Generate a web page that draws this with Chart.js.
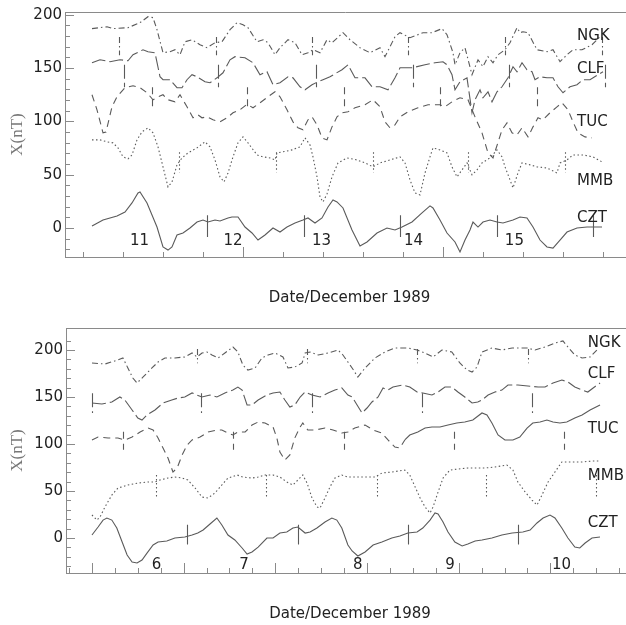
<!DOCTYPE html>
<html lang="en">
<head>
<meta charset="utf-8">
<title>X component, December 1989</title>
<script src="https://cdn.jsdelivr.net/npm/chart.js@4.4.1/dist/chart.umd.min.js"></script>
<style>
  html, body { margin: 0; padding: 0; background: #fff; }
  #top { position: absolute; left: 0; top: 0; }
  #bottom { position: absolute; left: 0; top: 312px; }
</style>
</head>
<body>
<canvas id="top" width="626" height="312"></canvas>
<canvas id="bottom" width="626" height="313"></canvas>
<script>
// stations, days, tick labels
const stations = ['NGK', 'CLF', 'TUC', 'MMB', 'CZT'];
const daysTop = ['11', '12', '13', '14', '15'];
const daysBottom = ['6', '7', '8', '9', '10'];
const dayHoursTop = [11.9, 35.25, 57.4, 80.4, 105.6];
const dayHoursBottom = [16.9, 39.8, 69.6, 93.7, 122.9];
const yTickLabels = [0, 50, 100, 150, 200];
const xTicksTop = [-2.25, 7.75, 17.75, 27.75, 37.75, 47.75, 57.75, 67.75, 77.75, 87.75, 97.75, 107.75, 117.75, 127.75];
const xMajorTop = [37.75, 87.75];
const xTicksBottom = [-6, 0, 6, 12, 18, 24, 30, 36, 42, 48, 54, 60, 66, 72, 78, 84, 90, 96, 102, 108, 114, 120, 126, 132, 138];
const xMajorBottom = [0, 24, 48, 72, 96, 120];

// top panel, 11-15 December: [hour, nT]
const ngkTop = [[0,186.9],[3.75,188.7],[5.25,186.9],[9,187.8],[12,192.5],[14,198.1],[15.25,197.2],[16.25,185.9],[17.75,164.3],[19.5,165.3],[20.75,167.1],[22,162.4],[23.25,174.6],[25,176.5],[27,171.8],[28.75,169],[30.75,173.7],[32.5,174.6],[34.5,185.9],[36.25,192.5],[37.75,190.6],[39,187.8],[41.25,174.6],[42.75,176.5],[44,173.7],[45.75,162.4],[47,169],[49,176.5],[50.75,173.7],[52.5,162.4],[54,164.3],[55.25,167.1],[57,164.3],[58.75,176.5],[60,173.7],[62.75,183.1],[64.5,176.5],[67,169],[69.5,164.3],[72,169],[73.25,160.6],[75.75,179.3],[77,183.1],[79.5,178.4],[82.75,183.1],[85,183.1],[87.5,186.9],[88.75,181.2],[90.25,164.3],[90.75,153],[92,164.3],[93.25,169],[95,143.7],[96.5,157.7],[97.75,151.2],[99,160.6],[100.25,154.9],[101.5,162.4],[103.25,167.1],[104.5,173.7],[106.25,187.8],[107,183.1],[107.75,184],[109,183.1],[111.25,167.1],[113.75,165.3],[115.25,167.1],[117,155.9],[118.75,162.4],[120.25,167.1],[122.5,167.1],[125,171.8],[127,179.3]];
const clfTop = [[0,154.9],[2,157.7],[4.5,155.9],[7,157.7],[9,156.8],[10.25,162.4],[12.75,167.1],[14,165.3],[15.75,164.3],[17,141.8],[17.75,139],[19.5,139],[21.25,131.5],[22.5,131.5],[23.75,139],[25,143.7],[26.25,141.8],[28.25,137.1],[29.5,136.2],[31.25,140.8],[32.75,145.5],[34.5,157.7],[35.75,160.6],[38.25,159.6],[40.25,154.9],[42,143.7],[43.75,146.5],[45.25,134.3],[47,136.2],[49,141.8],[50.25,140.8],[52,132.4],[53.25,129.6],[55,134.3],[56.5,137.1],[57.75,139],[59.5,141.8],[62.5,148.4],[64,153],[65.75,140.8],[68.25,140.8],[70,132.4],[72,132.4],[74,129.6],[75.75,140.8],[77,150.2],[80,150.2],[83.25,153],[85.75,154.9],[87.75,155.9],[88.75,153],[90,143.7],[90.75,129.6],[92,137.1],[93.75,140.8],[95,108],[95.75,120.2],[97,129.6],[97.75,122.1],[99,127.7],[100,118.3],[101.25,127.7],[102.5,132.4],[104,140.8],[105.25,151.2],[106.25,146.5],[107.5,154.9],[108.75,148.4],[110,146.5],[110.75,139],[112,141.8],[113.75,140.8],[115.25,140.8],[116.5,132.4],[117.75,126.8],[119.5,132.4],[121.25,134.3],[122.75,139],[124.5,139],[126.5,143.7],[127.75,146.5]];
const tucTop = [[0,124.9],[1.25,110.8],[2.75,89.2],[3.5,90],[5,113.6],[6.25,123],[8.25,131.5],[10.25,133.3],[12,131.5],[13.75,126.8],[15.25,120.2],[16.5,123],[17.75,124.9],[19,120.2],[20.75,118.3],[22,124.9],[23.75,113.6],[25.25,103.3],[26.5,106.1],[27.5,103.3],[28.75,104.2],[30.25,101.4],[32,99.5],[33.75,103.3],[35.25,108],[37,110.8],[38.75,116],[40.25,112.7],[42,117.4],[44,123],[45.75,127.7],[47,123],[48.75,110.8],[50.25,99.5],[51.5,93.9],[52.75,92],[54,101.4],[55,104.2],[56.25,96.7],[57.5,84.5],[58.75,82.6],[60,94.8],[61.25,104.2],[62.5,108],[64,108.9],[65.75,112.7],[68.25,115.5],[70.25,120.2],[72,113.6],[73.25,99.5],[74.5,93.9],[75.75,96.7],[77,104.2],[79,108.9],[81.5,112.7],[84,115.5],[87,115.5],[88.25,113.6],[90,118.3],[92,122.1],[94,120.2],[95.75,104.2],[97.5,89.2],[99,70.4],[100.25,65.7],[102.5,92],[103.75,98.6],[105,89.2],[106.25,87.3],[107.5,93.9],[109,85.4],[110.25,94.8],[111.5,103.3],[112.75,101.4],[114.5,108],[116.25,113.6],[117.5,117.4],[119,110.8],[120.25,99.5],[121.5,89.2],[123.25,85.4],[125,84.5]];
const mmbTop = [[0,82.6],[2,82.6],[3.75,80.8],[5.25,79.8],[6.5,75.1],[7.75,66.7],[9,64.8],[10,68.5],[11.25,82.6],[12.5,90.1],[14,93.9],[15.25,89.2],[16.5,76.1],[17.75,57.3],[19,38.5],[20,43.2],[21.25,59.2],[22.5,65.7],[24,70.4],[26.25,75.1],[28.25,80.8],[29.5,76.1],[30.75,63.8],[32,47.9],[33,43.2],[34,51.6],[35.25,66.7],[36.5,79.8],[37.75,85.4],[39,79.8],[41.25,68.5],[42.75,66.7],[44.5,65.7],[45.75,63.8],[46.25,70.4],[47.75,71.4],[50,73.2],[52,76.1],[53.25,84.5],[54.5,77.9],[55.25,66.7],[56.25,47.9],[57,29.1],[57.75,24.4],[58.75,31.9],[60,47.9],[61.5,61],[63.75,65.7],[66.25,63.8],[68.25,61],[70.25,57.3],[72,61],[74.5,63.8],[77,66.7],[78.25,61],[79.5,45.1],[80.75,32.9],[82,31],[83.25,51.6],[84.5,66.7],[85.25,75.1],[87,73.2],[88.75,70.4],[90,57.3],[91.25,47.9],[92.5,54.5],[93.75,61],[95,49.8],[96.25,54.5],[97.5,61],[99.5,65.7],[101.25,73.2],[102.5,66.7],[103.25,57.3],[104.5,45.1],[105.25,37.6],[106.5,51.6],[107.5,61],[109.5,59.2],[111.25,57.3],[113.75,56.3],[116.25,51.6],[117,61],[118.75,63.8],[120.25,68.5],[122.75,68.5],[125.25,66.7],[127.5,62]];
const cztTop = [[0,1.9],[2.75,7.5],[6.25,11.3],[8.25,15],[10,23.5],[11.5,32.9],[12,33.8],[13.75,23.5],[16.25,0.9],[17.75,-17.8],[19,-20.7],[20,-17.8],[21.25,-6.6],[22.75,-4.7],[24.5,0],[26.25,5.6],[27.75,7.5],[29,5.6],[30.75,7.5],[32,6.6],[34,9.4],[35,10.3],[36.5,10.3],[38.25,0.9],[40,-4.7],[41.5,-11.3],[43.25,-6.6],[45.25,0],[47,-3.8],[48.75,0.9],[50.75,4.7],[52.75,7.5],[54,9.4],[55.75,4.7],[57.5,9.4],[59,19.7],[60.25,26.3],[61.25,24.4],[62.75,18.8],[65,-1.9],[67,-16.9],[68.75,-13.1],[71.25,-4.7],[73.75,0],[75.75,-1.9],[77.5,0.9],[80,5.6],[82.5,14.1],[84.5,20.7],[85.25,18.8],[87,7.5],[88.75,-4.7],[90.75,-13.1],[92,-22.5],[93.25,-11.3],[94.5,-1.9],[95.25,5.6],[96.5,0.9],[97.75,5.6],[99.5,7.5],[101.25,5.6],[102.75,4.7],[105.25,7.5],[107,10.3],[108.75,9.4],[110.25,0.9],[112,-11.3],[113.75,-17.8],[115.25,-18.8],[117,-11.3],[118.75,-3.8],[121.25,0],[123.75,0.9],[127.5,0.9]];

// bottom panel, 6-10 December: [hour, nT]
const ngkBottom = [[0,186.2],[3.4,185.1],[6.8,189.4],[8.1,191.5],[9.4,180.9],[10.7,170.2],[11.8,164.9],[13.4,171.3],[15.7,180.9],[17.3,187.2],[19.1,191.5],[21.7,191.5],[24.3,192.6],[26.2,196.8],[27.5,192.6],[28.8,196.8],[30.1,197.9],[31.4,194.7],[33,191.5],[34.8,196.8],[36.9,203.2],[38.2,197.9],[39.5,184],[40.8,178.7],[42.7,180.9],[44.5,191.5],[46.1,194.7],[47.9,196.8],[50,192.6],[51.3,180.9],[53.1,181.9],[55,186.2],[55.8,196.8],[57.1,197.9],[59.2,194.7],[61.8,196.8],[64.4,200],[65.7,194.7],[67,187.2],[68.1,180.9],[69.6,171.3],[71.5,180.9],[74.1,191.5],[76.7,197.9],[79.3,202.1],[82.7,202.1],[85.1,200],[87.2,196.8],[89.3,192.6],[91.6,200],[94.2,197.9],[96.3,186.2],[98.2,178.7],[99.5,176.6],[100.8,181.9],[102.1,197.9],[104.7,202.1],[107.3,200],[110,202.1],[113.9,202.1],[116,200],[118.6,203.2],[121.2,207.4],[123.3,209.6],[124.6,203.2],[126.4,194.7],[128.3,191.5],[130.4,192.6],[132.2,200]];
const clfBottom = [[0,143.6],[2.6,142.6],[5.2,144.7],[7.3,150],[8.6,146.8],[10.5,136.2],[12,127.7],[13.1,125.5],[14.4,130.9],[16.5,136.2],[18.6,143.6],[20.9,146.8],[22.5,148.9],[24.3,150],[26.2,154.3],[27.5,152.1],[28.8,150],[30.9,152.1],[32.7,150],[34.8,154.3],[36.9,157.4],[38.2,160.6],[39.3,157.4],[40.6,141.5],[41.9,141.5],[43.5,146.8],[45.8,152.1],[47.4,154.3],[49.2,155.3],[50.5,146.8],[51.8,139.4],[53.1,141.5],[54.5,150],[55.8,155.3],[57.6,152.1],[59.7,150],[61.8,154.3],[63.6,157.4],[65.4,159.6],[67,152.1],[68.1,150],[69.4,141.5],[70.7,133],[72,138.3],[73.3,144.7],[74.9,150],[76.2,159.6],[77.5,157.4],[78.8,160.6],[81.4,162.8],[83.2,160.6],[85.1,155.3],[86.6,154.3],[89,152.1],[90.6,155.3],[92.4,160.6],[94.2,160.6],[95.8,155.3],[97.6,150],[99.5,143.6],[101,144.7],[102.1,146.8],[103.7,152.1],[105.5,155.3],[107.3,157.4],[108.9,162.8],[111.5,162.8],[114.1,161.7],[116.8,160.6],[118.6,160.6],[120.7,164.9],[123,168.1],[124.6,166],[126.4,160.6],[128.3,157.4],[129.8,155.3],[131.2,159.6],[133,164.9]];
const tucBottom = [[0,104.3],[1.6,107.4],[4.2,106.4],[6.8,106.4],[8.6,104.3],[10.5,107.4],[12.6,112.8],[14.7,117],[16,114.9],[17.3,106.4],[18.6,95.7],[19.9,85.1],[21.2,70.2],[22.3,74.5],[23.6,88.3],[24.9,98.9],[26.2,104.3],[28.3,107.4],[30.4,112.8],[32.7,114.9],[34,114.9],[35.6,111.7],[36.9,109.6],[38.2,112.8],[40.1,112.8],[41.9,120.2],[43.5,123.4],[45.3,122.3],[47.4,118.1],[48.4,106.4],[49.2,91.5],[50.5,83],[51.8,88.3],[53.1,106.4],[54.5,118.1],[55.2,122.3],[56.5,114.9],[58.4,114.9],[61,117],[63.1,114.9],[65.4,111.7],[67,112.8],[68.8,117],[71.5,120.2],[73.6,114.9],[75.9,111.7],[77.5,104.3],[79.3,96.8],[80.6,95.7],[81.9,104.3],[83.2,109.6],[85.3,112.8],[87.2,117],[89,118.1],[91.1,118.1],[93.2,120.2],[95.5,122.3],[97.6,123.4],[99.7,125.5],[102.1,133],[103.4,130.9],[104.7,122.3],[106.3,109.6],[108.1,104.3],[110.2,104.3],[112,107.4],[113.9,117],[115.4,122.3],[117.3,123.4],[119.1,125.5],[120.7,123.4],[122.5,122.3],[124.3,123.4],[126.4,127.7],[128.3,130.9],[130.4,136.2],[133,141.5]];
const mmbBottom = [[0,24.5],[1.3,19.1],[2.1,22.3],[3.4,33],[5.2,45.7],[6.8,53.2],[9.4,56.4],[12,58.5],[14.7,59.6],[16.5,59.6],[17.8,61.7],[19.9,63.8],[21.7,64.9],[23.6,63.8],[25.1,61.7],[27,53.2],[28.8,43.6],[30.4,42.6],[32.2,47.9],[34,56.4],[35.6,63.8],[38,67],[39.5,64.9],[41.9,63.8],[43.5,64.9],[45.3,67],[47.4,67],[49.2,64.9],[51,59.6],[52.6,56.4],[53.9,61.7],[55.2,67],[56.3,58.5],[57.6,42.6],[58.9,33],[59.7,31.9],[61,42.6],[62.3,54.3],[63.6,63.8],[65.4,67],[67,64.9],[70.7,64.9],[74.1,64.9],[75.9,69.1],[78.5,70.2],[81.9,72.3],[83.2,67],[84.6,54.3],[85.9,42.6],[87.2,33],[88.5,26.6],[89.3,33],[90.6,48.9],[91.9,63.8],[93.7,72.3],[95.8,73.4],[98.4,74.5],[102.9,74.5],[105.5,75.5],[108.6,77.7],[110.2,72.3],[111.5,59.6],[113.4,48.9],[115.2,40.4],[116.5,35.1],[117.8,45.7],[119.4,59.6],[121.2,70.2],[123,80.9],[125.7,80.9],[128.3,80.9],[130.9,81.9],[133,81.9]];
const cztBottom = [[0,3.2],[1.6,11.7],[2.9,19.1],[3.9,21.3],[5.2,19.1],[6.5,10.6],[7.9,-4.3],[9.2,-18.1],[10.5,-25.5],[11.8,-26.6],[13.1,-23.4],[14.4,-16],[16,-7.4],[17.3,-4.3],[19.6,-3.2],[21.7,0],[24.3,1.1],[26.2,3.2],[27.7,5.3],[29.1,8.5],[30.9,14.9],[32.7,21.3],[34,13.8],[35.6,3.2],[37.4,-2.1],[39.3,-10.6],[40.6,-17],[41.9,-14.9],[43.5,-9.6],[45.8,0],[47.4,0],[49.2,5.3],[51,6.4],[52.6,10.6],[53.9,11.7],[55.8,5.3],[57.1,6.4],[58.9,10.6],[61,17],[62.8,21.3],[64.1,19.1],[65.4,10.6],[67,-7.4],[68.1,-13.8],[69.6,-19.1],[71.5,-14.9],[73.6,-7.4],[75.9,-4.3],[78.5,0],[80.6,2.1],[82.7,5.3],[85.1,6.4],[86.6,10.6],[88.5,19.1],[89.8,26.6],[90.6,25.5],[91.9,17],[93.2,6.4],[95,-4.3],[96.9,-8.5],[98.4,-6.4],[100.3,-3.2],[102.1,-2.1],[104.7,0],[107.3,3.2],[110,5.3],[112.8,6.4],[114.7,8.5],[116.5,16],[118.1,21.3],[119.9,24.5],[121.2,21.3],[123,10.6],[124.6,0],[126.4,-9.6],[127.7,-10.6],[129.1,-5.3],[130.9,0],[133,1.1]];

// local-time marker hours and their nT band
const marksTop = [[6.75, 31, 55, 79, 103.25, 127.5], [8, 31.5, 56, 80.25, 104.25, 128.25], [15, 38.75, 63, 87, 111.25], [21.75, 46, 70.25, 94, 118.25], [28.75, 53, 77, 101.25, 125.25]];
const bandsTop = [[162, 179], [132, 153], [113, 132], [52, 71], [-8.5, 12]];
const marksBottom = [[27.5, 56.3, 85.1, 114.1], [0, 28.5, 57.6, 86.4, 115.2], [8.1, 36.9, 66, 94.8, 123.6], [16.8, 45.5, 74.6, 103.1, 131.9], [24.9, 53.9, 82.7, 111.5]];
const bandsBottom = [[186, 201], [133, 154], [94, 113], [44, 67], [-7, 14]];

const lineColor = '#5a5a5a';
const axisColor = '#8a8a8a';
const dashes = [[6, 3, 1.5, 3], [14, 4], [7, 5], [1.5, 2.5], []];
const tucSolidFrom = 81.9; // TUC drawn solid after this hour in the lower panel

// frame, inward ticks, markers and texts
const decor = {
    id: 'decor',
    afterDatasetsDraw(chart, args, o) {
        const { ctx, chartArea: a, scales: { x, y } } = chart;
        ctx.save();
        ctx.strokeStyle = axisColor;
        ctx.lineWidth = 1;
        ctx.beginPath();
        ctx.moveTo(a.left, a.top + 0.5);
        ctx.lineTo(a.right, a.top + 0.5);
        o.xTicks.forEach(h => {
            const px = Math.round(x.getPixelForValue(h)) + 0.5;
            const len = o.xMajor.includes(h) ? 10 : 5;
            ctx.moveTo(px, a.bottom);
            ctx.lineTo(px, a.bottom - len);
        });
        for (let v = o.yFrom; v <= o.yTo; v += 10) {
            const py = Math.round(y.getPixelForValue(v)) + 0.5;
            const len = v % 50 === 0 ? 9 : 5;
            ctx.moveTo(a.left, py);
            ctx.lineTo(a.left + len, py);
        }
        ctx.stroke();

        // markers
        chart.data.datasets.forEach((ds, i) => {
            ctx.strokeStyle = lineColor;
            ctx.lineWidth = 1.1;
            ctx.setLineDash(dashes[i]);
            ctx.beginPath();
            o.marks[i].forEach(h => {
                const px = Math.round(x.getPixelForValue(h)) + 0.5;
                ctx.moveTo(px, y.getPixelForValue(o.bands[i][1]));
                ctx.lineTo(px, y.getPixelForValue(o.bands[i][0]));
            });
            ctx.stroke();
        });
        ctx.setLineDash([]);

        ctx.fillStyle = '#222';
        ctx.font = '15px "DejaVu Sans"';
        ctx.textBaseline = 'alphabetic';
        ctx.textAlign = 'center';
        o.days.forEach((d, i) => {
            ctx.fillText(d, x.getPixelForValue(o.dayHours[i]), y.getPixelForValue(o.dayValue));
        });
        ctx.textAlign = 'left';
        stations.forEach((s, i) => {
            ctx.fillText(s, x.getPixelForValue(o.labelHour), y.getPixelForValue(o.labelValues[i]));
        });
        ctx.textAlign = 'center';
        ctx.fillText('Date/December 1989', (a.left + a.right) / 2 + 4, a.bottom + 45);
        ctx.restore();
    }
};

function makePanel(id, p) {
    const datasets = p.series.map((pts, i) => ({
        label: stations[i],
        data: pts.map(q => ({ x: q[0], y: q[1] })),
        borderColor: lineColor,
        borderWidth: 1.1,
        borderDash: dashes[i],
        pointRadius: 0,
        tension: 0,
        fill: false
    }));
    if (p.tucSolid) {
        datasets[2].segment = {
            borderDash: c => c.p0.parsed.x >= p.tucSolid ? [] : dashes[2]
        };
    }
    return new Chart(document.getElementById(id), {
        type: 'line',
        data: { datasets },
        plugins: [decor],
        options: {
            responsive: false,
            animation: false,
            events: [],
            layout: { padding: { top: p.padTop, left: 0, right: 0, bottom: 0 } },
            scales: {
                x: {
                    type: 'linear', min: p.xMin, max: p.xMax,
                    afterFit(s) { s.height = p.axisH; },
                    ticks: { display: false },
                    grid: { display: false, drawTicks: false },
                    border: { display: true, color: axisColor, width: 1 }
                },
                y: {
                    type: 'linear', min: p.yMin, max: p.yMax,
                    afterFit(s) { s.width = p.axisW; },
                    afterBuildTicks(s) { s.ticks = yTickLabels.map(v => ({ value: v })); },
                    grid: { display: false, drawTicks: false },
                    border: { display: true, color: axisColor, width: 1 },
                    ticks: { padding: 3, color: '#222', font: { family: 'DejaVu Sans', size: 15 } },
                    title: {
                        display: true, text: 'X(nT)', color: '#777',
                        font: { family: 'Liberation Serif', size: 17 },
                        padding: { top: 7, bottom: 0 }
                    }
                }
            },
            plugins: {
                legend: { display: false },
                tooltip: { enabled: false },
                decor: {
                    xTicks: p.xTicks, xMajor: p.xMajor, yFrom: p.yFrom, yTo: p.yTo,
                    marks: p.marks, bands: p.bands,
                    days: p.days, dayHours: p.dayHours, dayValue: p.dayValue,
                    labelHour: p.labelHour, labelValues: p.labelValues
                }
            }
        }
    });
}

makePanel('top', {
    series: [ngkTop, clfTop, tucTop, mmbTop, cztTop],
    marks: marksTop, bands: bandsTop,
    padTop: 12, axisW: 65, axisH: 55,
    xMin: -6.75, xMax: 133.5, yMin: -27.2, yMax: 202.5,
    xTicks: xTicksTop, xMajor: xMajorTop, yFrom: -20, yTo: 200,
    days: daysTop, dayHours: dayHoursTop, dayValue: -16,
    labelHour: 121.25, labelValues: [176.5, 145.5, 95.4, 40.4, 5.6]
});

makePanel('bottom', {
    series: [ngkBottom, clfBottom, tucBottom, mmbBottom, cztBottom],
    marks: marksBottom, bands: bandsBottom, tucSolid: tucSolidFrom,
    padTop: 16, axisW: 66, axisH: 52,
    xMin: -6.8, xMax: 139.8, yMin: -37.2, yMax: 223.4,
    xTicks: xTicksBottom, xMajor: xMajorBottom, yFrom: -30, yTo: 210,
    days: daysBottom, dayHours: dayHoursBottom, dayValue: -33,
    labelHour: 129.8, labelValues: [202.7, 170.2, 111.7, 61.7, 11.7]
});
</script>
</body>
</html>
